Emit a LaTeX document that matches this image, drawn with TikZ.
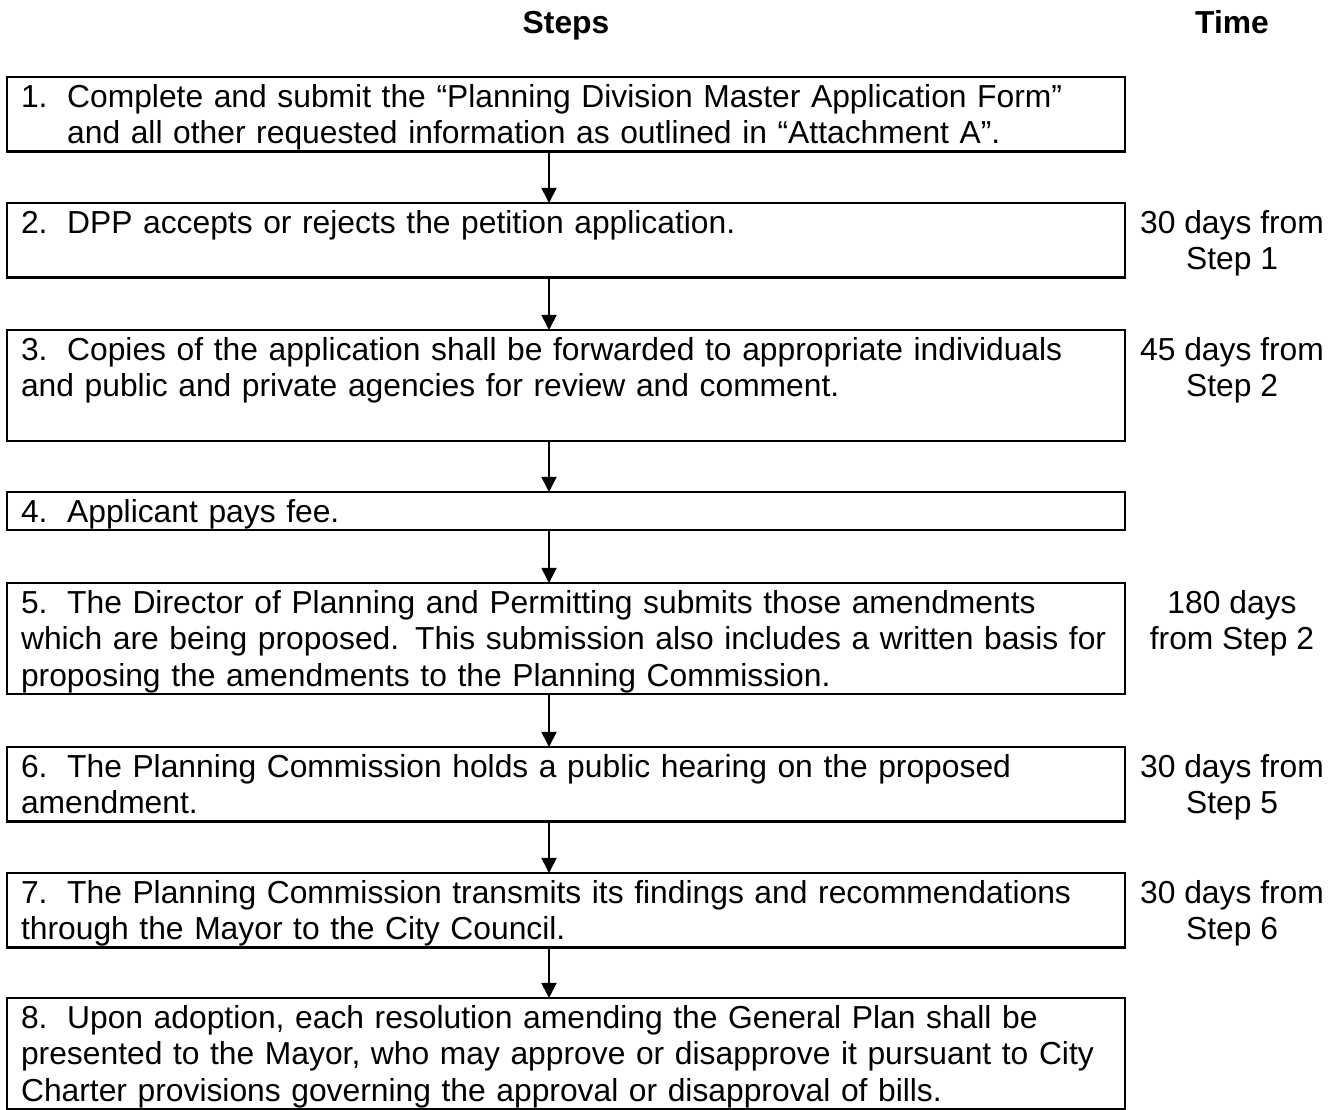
\documentclass[tikz,border=0pt]{standalone}
\usepackage{fontspec}
\setmainfont{Liberation Sans}
\usetikzlibrary{arrows.meta}
\newcommand{\stepstrut}{\rule[-2.7pt]{0pt}{13.8pt}}
\newcommand{\stepno}[1]{\makebox[17.4pt][l]{#1}}
\tikzset{
	stepbox/.style={draw, line width=0.8pt, anchor=north west, text width=411.3pt,
		inner xsep=5.3pt, inner ysep=0.25pt, outer sep=0pt, align=left,
		font=\fontsize{12}{13.8}\selectfont},
	timelbl/.style={anchor=north, inner xsep=0pt, inner ysep=0.25pt, outer sep=0pt,
		align=center, font=\fontsize{12}{13.8}\selectfont},
	headlbl/.style={anchor=base, font=\fontsize{12}{13.8}\selectfont\bfseries},
	flow/.style={line width=0.6pt, -{Triangle[length=5.7pt,width=5.7pt]}}
}

\begin{document}
\begin{tikzpicture}[x=0.37736pt, y=-0.37736pt]
		%%%%% START %%%%%
		\useasboundingbox (0, 0) rectangle (1338, 1110);
		
		\coordinate (ax) at (549, 0);
		\coordinate (tx) at (1232, 0);
		
		\node[headlbl] (steps) at (566, 33) {Steps};
		\node[headlbl] (time) at (1232, 33) {Time};
		
		\node[stepbox] (s1) at (7, 77) {\stepstrut\stepno{1.}Complete and submit the “Planning Division Master Application Form”\\
			\hspace*{17.4pt}and all other requested information as outlined in “Attachment A”.\stepstrut};
		\node[stepbox] (s2) at (7, 203) {\stepstrut\stepno{2.}DPP accepts or rejects the petition application.\\
			\stepstrut};
		\node[stepbox] (s3) at (7, 330) {\stepstrut\stepno{3.}Copies of the application shall be forwarded to appropriate individuals\\
			and public and private agencies for review and comment.\\
			\stepstrut};
		\node[stepbox] (s4) at (7, 492) {\stepstrut\stepno{4.}Applicant pays fee.\stepstrut};
		\node[stepbox] (s5) at (7, 583) {\stepstrut\stepno{5.}The Director of Planning and Permitting submits those amendments\\
			which are being proposed.  This submission also includes a written basis for\\
			proposing the amendments to the Planning Commission.\stepstrut};
		\node[stepbox] (s6) at (7, 747) {\stepstrut\stepno{6.}The Planning Commission holds a public hearing on the proposed\\
			amendment.\stepstrut};
		\node[stepbox] (s7) at (7, 873) {\stepstrut\stepno{7.}The Planning Commission transmits its findings and recommendations\\
			through the Mayor to the City Council.\stepstrut};
		\node[stepbox] (s8) at (7, 998) {\stepstrut\stepno{8.}Upon adoption, each resolution amending the General Plan shall be\\
			presented to the Mayor, who may approve or disapprove it pursuant to City\\
			Charter provisions governing the approval or disapproval of bills.\stepstrut};
		
		% time column
		\node[timelbl] (t2) at (s2.north -| tx) {\stepstrut 30 days from\\Step 1\stepstrut};
		\node[timelbl] (t3) at (s3.north -| tx) {\stepstrut 45 days from\\Step 2\stepstrut};
		\node[timelbl] (t5) at (s5.north -| tx) {\stepstrut 180 days\\from Step 2\stepstrut};
		\node[timelbl] (t6) at (s6.north -| tx) {\stepstrut 30 days from\\Step 5\stepstrut};
		\node[timelbl] (t7) at (s7.north -| tx) {\stepstrut 30 days from\\Step 6\stepstrut};
		
		% arrows between steps
		\draw[flow] (s1.south -| ax) -- (s2.north -| ax);
		\draw[flow] (s2.south -| ax) -- (s3.north -| ax);
		\draw[flow] (s3.south -| ax) -- (s4.north -| ax);
		\draw[flow] (s4.south -| ax) -- (s5.north -| ax);
		\draw[flow] (s5.south -| ax) -- (s6.north -| ax);
		\draw[flow] (s6.south -| ax) -- (s7.north -| ax);
		\draw[flow] (s7.south -| ax) -- (s8.north -| ax);
		
		%%%%% END %%%%%
\end{tikzpicture}
\end{document}
